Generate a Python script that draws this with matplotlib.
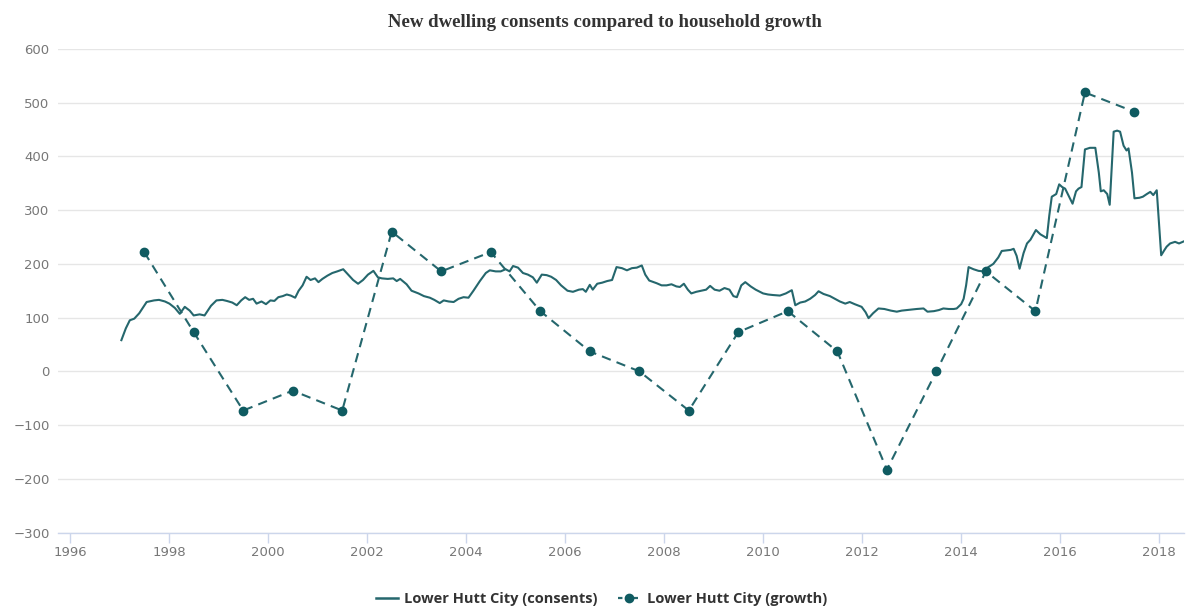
"""
New dwelling consents versus household growth, Lower Hutt City.
"""
import numpy as np
import matplotlib.pyplot as plt
from matplotlib.lines import Line2D

# annualised consents, monthly-ish readings (decimal year, dwellings)
consent_years = [
    1997.04, 1997.13, 1997.21, 1997.30, 1997.40, 1997.55, 1997.70, 1997.80, 1997.92,
    1998.01, 1998.12, 1998.22, 1998.32, 1998.42, 1998.50, 1998.62, 1998.72, 1998.85, 1998.96,
    1999.08, 1999.17, 1999.28, 1999.37, 1999.46, 1999.54, 1999.62, 1999.70, 1999.77, 1999.87, 1999.96,
    2000.05, 2000.13, 2000.21, 2000.30, 2000.38, 2000.46, 2000.55, 2000.62, 2000.70, 2000.78, 2000.86, 2000.95,
    2001.02, 2001.10, 2001.20, 2001.30, 2001.40, 2001.52, 2001.62, 2001.72, 2001.82, 2001.92,
    2002.02, 2002.13, 2002.22, 2002.30, 2002.42, 2002.53, 2002.60, 2002.67, 2002.80, 2002.90,
    2003.04, 2003.15, 2003.27, 2003.36, 2003.47, 2003.55, 2003.65, 2003.75, 2003.85, 2003.95,
    2004.05, 2004.15, 2004.28, 2004.40, 2004.48, 2004.60, 2004.70, 2004.80, 2004.88, 2004.95,
    2005.05, 2005.15, 2005.25, 2005.35, 2005.43, 2005.53, 2005.63, 2005.72, 2005.82, 2005.92,
    2006.05, 2006.16, 2006.28, 2006.36, 2006.42, 2006.50, 2006.56, 2006.65, 2006.75, 2006.85, 2006.95,
    2007.04, 2007.15, 2007.25, 2007.35, 2007.45, 2007.55, 2007.62, 2007.70, 2007.85, 2007.95,
    2008.05, 2008.15, 2008.25, 2008.32, 2008.40, 2008.48, 2008.55, 2008.65, 2008.75, 2008.85, 2008.93,
    2009.02, 2009.12, 2009.22, 2009.32, 2009.40, 2009.47, 2009.56, 2009.64, 2009.75, 2009.85,
    2010.00, 2010.10, 2010.20, 2010.34, 2010.46, 2010.58, 2010.65, 2010.75, 2010.85, 2010.95,
    2011.05, 2011.12, 2011.22, 2011.35, 2011.45, 2011.55, 2011.66, 2011.75, 2011.85, 2011.99,
    2012.07, 2012.13, 2012.22, 2012.33, 2012.45, 2012.58, 2012.70, 2012.80, 2012.90,
    2013.00, 2013.10, 2013.24, 2013.32, 2013.45, 2013.55, 2013.64, 2013.75, 2013.85, 2013.91,
    2014.00, 2014.05, 2014.10, 2014.15, 2014.25, 2014.35, 2014.45, 2014.55, 2014.65, 2014.75, 2014.82, 2014.92,
    2015.00, 2015.06, 2015.12, 2015.18, 2015.26, 2015.33, 2015.40, 2015.51, 2015.60, 2015.73, 2015.78, 2015.83,
    2015.92, 2015.98, 2016.04, 2016.10, 2016.18, 2016.25, 2016.32, 2016.37, 2016.43, 2016.50, 2016.60,
    2016.71, 2016.78, 2016.82, 2016.88, 2016.95, 2017.00, 2017.08, 2017.15, 2017.21, 2017.28, 2017.34,
    2017.38, 2017.45, 2017.50, 2017.60, 2017.67, 2017.75, 2017.82, 2017.88, 2017.95,
    2018.04, 2018.10, 2018.15, 2018.22, 2018.32, 2018.40, 2018.50,
]
consent_values = [
    58, 80, 95, 98, 108, 129, 132, 133, 130,
    126, 118, 107, 120, 113, 104, 106, 104, 122, 132,
    133, 131, 128, 123, 132, 138, 133, 135, 126, 130, 125,
    132, 131, 138, 140, 143, 141, 137, 150, 160, 176, 170, 173,
    166, 172, 178, 183, 186, 190, 180, 170, 163, 170,
    180, 187, 175, 173, 172, 173, 168, 172, 162, 150,
    145, 140, 137, 133, 127, 132, 130, 129, 135, 138,
    137, 150, 168, 183, 188, 186, 186, 190, 186, 196,
    193, 183, 180, 175, 165, 180, 179, 176, 170, 160,
    150, 148, 152, 153, 148, 161, 152, 163, 165, 168, 170,
    194, 192, 188, 192, 193, 197, 180, 169, 164, 160,
    160, 162, 158, 157, 163, 152, 145, 148, 150, 152, 159,
    152, 150, 155, 152, 140, 138, 160, 166, 158, 152,
    145, 143, 142, 141, 145, 151, 123, 128, 130, 135,
    142, 149, 144, 140, 135, 130, 126, 129, 125, 120,
    110, 99, 108, 117, 116, 113, 111, 113, 114,
    115, 116, 117, 111, 112, 114, 117, 116, 116, 117,
    125, 135, 160, 194, 190, 187, 186, 194, 200, 212, 224, 225,
    226, 228, 215, 191, 220, 238, 245, 263, 255, 248, 290, 325,
    330, 348, 343, 340, 325, 312, 335, 340, 343, 413, 416,
    416, 370, 335, 337, 330, 310, 446, 448, 446, 420, 411,
    415, 370, 322, 323, 325, 330, 334, 328, 337,
    216, 225, 232, 238, 241, 238, 242,
]

# household growth, one reading per year (mid-year)
growth_years = [1997.5, 1998.5, 1999.5, 2000.5, 2001.5, 2002.5, 2003.5, 2004.5, 2005.5,
                2006.5, 2007.5, 2008.5, 2009.5, 2010.5, 2011.5, 2012.5, 2013.5, 2014.5,
                2015.5, 2016.5, 2017.5]
growth_values = [222, 73, -73, -36, -73, 260, 186, 222, 112,
                 37, 0, -73, 73, 112, 37, -183, 0, 186,
                 112, 519, 483]

x_ticks = list(range(1996, 2019, 2))
y_ticks = list(range(-300, 601, 100))

LINE = '#25676d'
DOT = '#0f5b61'


def main():
    fig = plt.figure(figsize=(11.91, 6.12), dpi=100)
    ax = fig.add_axes([0.0487, 0.1299, 0.9454, 0.7901])

    ax.plot(consent_years, consent_values, color=LINE, lw=1.5,
            solid_joinstyle='round', zorder=3)
    ax.plot(growth_years, growth_values, color=LINE, lw=1.5,
            linestyle=(0, (4.5, 3)), marker='o', markersize=6,
            markerfacecolor=DOT, markeredgecolor=DOT, zorder=4)

    ax.set_xlim(1995.76, 2018.5)
    ax.set_ylim(-300, 600)
    ax.set_xticks(x_ticks)
    ax.set_yticks(y_ticks)
    ax.set_yticklabels([str(v).replace('-', '\u2212') for v in y_ticks])

    for s in ['top', 'right', 'left']:
        ax.spines[s].set_visible(False)
    ax.spines['bottom'].set_color('#ccd6eb')
    ax.spines['bottom'].set_linewidth(1)

    ax.grid(axis='y', color='#e6e6e6', lw=1)
    ax.set_axisbelow(True)
    ax.tick_params(axis='y', length=0, pad=6, labelsize=9.5, labelcolor='#777777')
    ax.tick_params(axis='x', length=7, width=1, color='#ccd6eb', pad=3,
                   labelsize=9.5, labelcolor='#777777')

    fig.text(0.508, 0.963, 'New dwelling consents compared to household growth',
             ha='center', va='center', fontsize=13.5, fontweight='bold',
             family='Liberation Serif', color='#333333')

    handles = [
        Line2D([], [], color=LINE, lw=1.8),
        Line2D([], [], color=LINE, lw=1.6, linestyle=(0, (2, 1.5)), marker='o',
               markersize=6, markerfacecolor=DOT, markeredgecolor=DOT),
    ]
    fig.legend(handles, ['Lower Hutt City (consents)', 'Lower Hutt City (growth)'],
               loc='center', bbox_to_anchor=(0.505, 0.021), ncol=2, frameon=False,
               handlelength=1.5, handletextpad=0.45, columnspacing=1.4,
               prop={'size': 10.5, 'weight': 'bold', 'family': 'Open Sans'},
               labelcolor='#333333')

    fig.savefig('out.png', dpi=100)


if __name__ == "__main__":
    main()
